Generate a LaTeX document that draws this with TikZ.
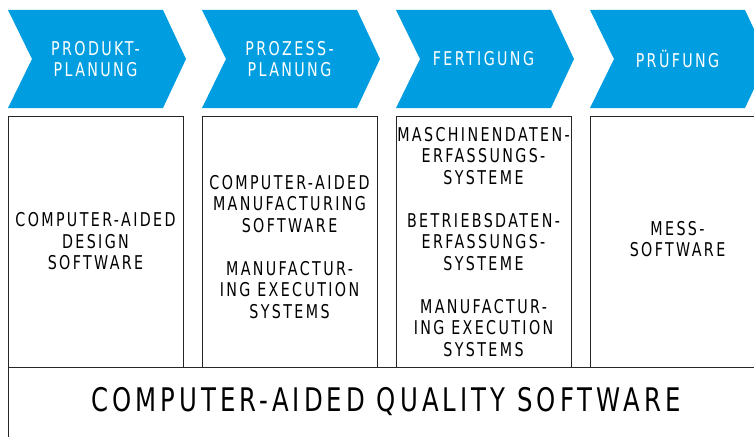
\documentclass[tikz,border=0pt]{standalone}
\usepackage{fontspec}
\setmainfont{DejaVu Sans}[FakeStretch=0.75, LetterSpace=12.5]
\usepackage{xcolor}
\usetikzlibrary{positioning}
\definecolor{phaseblue}{RGB}{0,158,224}

\tikzset{
  phase/.style={fill=phaseblue, draw=none},
  phasetext/.style={text=white, align=center, font=\fontsize{19}{21.5}\selectfont},
  toolbox/.style={draw=black!85, line width=0.8pt, inner sep=0pt},
  tooltext/.style={align=center, font=\fontsize{19}{21.5}\selectfont},
}

\begin{document}
\begin{tikzpicture}[x=1pt, y=-1pt]
\clip (0,0) rectangle (754,436);
\foreach \i/\x in {1/8, 2/202, 3/396, 4/590}{
  \fill[phase] (\x,10) -- ++(155,0) -- ++(23,49) -- ++(-23,49) -- ++(-155,0) -- ++(24,-49) -- cycle; % chevron
  \node[toolbox, minimum width=175, minimum height=251] (box\i) at (\x+87.5,241.5) {}; % tool column
  \coordinate (c\i) at (\x+87.5,59);
}
\node[toolbox, anchor=north west, minimum width=800, minimum height=100] (base) at (8,367) {}; % quality row

\node[phasetext] (p1) at (c1) {PRODUKT-\\PLANUNG};
\node[phasetext] (p2) at (c2) {PROZESS-\\PLANUNG};
\node[phasetext] (p3) at (c3) {FERTIGUNG};
\node[phasetext] (p4) at (c4) {PRÜFUNG};

\node[tooltext] (t1) at (box1.center) {COMPUTER-AIDED\\DESIGN\\SOFTWARE};
\node[tooltext] (t2) at (box2.center |- 0,247) {COMPUTER-AIDED\\MANUFACTURING\\SOFTWARE\\[21.5pt]MANUFACTUR-\\ING EXECUTION\\SYSTEMS};
\node[tooltext] (t3) at (box3.center |- 0,242) {MASCHINENDATEN-\\ERFASSUNGS-\\SYSTEME\\[21.5pt]BETRIEBSDATEN-\\ERFASSUNGS-\\SYSTEME\\[21.5pt]MANUFACTUR-\\ING EXECUTION\\SYSTEMS};
\node[tooltext] (t4) at (box4.center |- 0,239) {MESS-\\SOFTWARE};

\node[font=\fontsize{32.5}{36}\selectfont] (q) at (386,402) {COMPUTER-AIDED QUALITY SOFTWARE};
\end{tikzpicture}
\end{document}
